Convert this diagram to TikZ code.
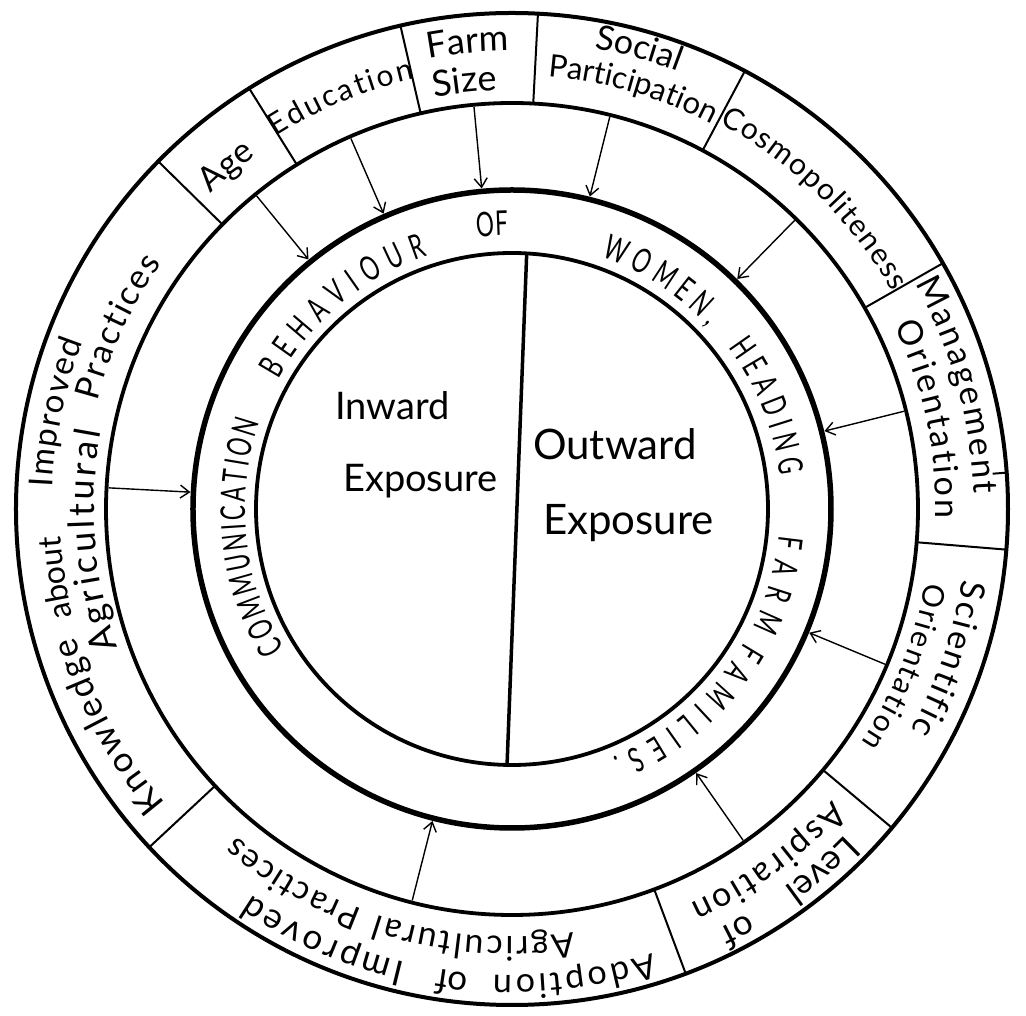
\documentclass[tikz,border=0pt]{standalone}
\usepackage{fontspec}
\usetikzlibrary{decorations.text,arrows.meta}
\newfontfamily\lblfont{Lato}
\newfontfamily\ringfont{Lato}[FakeStretch=0.66]
\newfontfamily\cenfont{Lato}
\newcommand\lsAA{\lblfont\fontsize{30pt}{30pt}\selectfont}
\newcommand\lsAB{\lblfont\fontsize{31pt}{31pt}\selectfont}
\newcommand\lsB{\lblfont\fontsize{32pt}{32pt}\selectfont}
\newcommand\lsC{\lblfont\fontsize{33pt}{33pt}\selectfont}
\newcommand\lsD{\lblfont\fontsize{34pt}{34pt}\selectfont}
\newcommand\lsE{\lblfont\fontsize{35pt}{35pt}\selectfont}
\newcommand\lsF{\lblfont\fontsize{36pt}{36pt}\selectfont}
\newcommand\rngf{\ringfont\fontsize{34pt}{34pt}\selectfont}
% centred text on a clockwise arc: centre angle, radius, font, text
\newcommand\arclabel[4]{\begingroup#3\path[decorate,decoration={text along path,text align=center,text={|#3|#4}}] ({#1+30}:#2) arc[start angle={#1+30},end angle={#1-30},radius=#2];\endgroup}
% text spread over a clockwise arc: start angle, end angle, radius, font, text
\newcommand\arcfit[5]{\begingroup#4\path[decorate,decoration={text along path,text align=fit to path,text={|#4|#5}}] (#1:#3) arc[start angle=#1,end angle=#2,radius=#3];\endgroup}
\tikzset{
  ringA/.style={draw,circle,inner sep=0pt,line width=4pt},
  ringB/.style={draw,circle,inner sep=0pt,line width=3.8pt},
  ringC/.style={draw,circle,inner sep=0pt,line width=5.5pt},
  ringD/.style={draw,circle,inner sep=0pt,line width=3.8pt},
  seplin/.style={line width=2pt},
  arr/.style={line width=1.4pt,-{Straight Barb[length=9pt,width=13pt]}},
  divline/.style={line width=3.5pt},
  centxtL/.style={font=\cenfont\fontsize{38pt}{38pt}\selectfont,inner sep=0pt,anchor=base west},
  centxtR/.style={font=\cenfont\fontsize{42pt}{42pt}\selectfont,inner sep=0pt,anchor=base west}
}
\begin{document}
\begin{tikzpicture}
\useasboundingbox (-512pt,-507pt) rectangle (514pt,509pt);
% circles
\node[ringA,minimum size=992pt] (c1) at (0,0) {};
\node[ringB,minimum size=812pt] (c2) at (0,0) {};
\node[ringC,minimum size=638pt] (c3) at (0,0) {};
\node[ringD,minimum size=512pt] (c4) at (0,0) {};
% separators in outer ring
\foreach \a [count=\i] in {135.5,122,103,87,62,29.7,-4.7,-40,-69.5,-137}{
  \coordinate (si\i) at (\a:406pt);
  \coordinate (so\i) at (\a:496pt);
  \draw[seplin] (si\i) -- (so\i);
}
\coordinate (tk1) at (4.2:482pt);
\coordinate (tk2) at (4.2:496pt);
\draw[seplin] (tk1) -- (tk2);
% arrows
\foreach \a [count=\i] in {129.2,113.5,95.4,76,45.6,14,-22.6,-55.1,-104.3,177}{
  \coordinate (as\i) at (\a:404pt);
  \coordinate (ae\i) at (\a:322pt);
  \draw[arr] (as\i) -- (ae\i);
}
% divider
\coordinate (dt) at (86.7:255pt);
\coordinate (db) at (268.9:254pt);
\draw[divline] (dt) -- (db);
% outer ring labels
\arclabel{129.8}{436pt}{\lsD}{Age}
\arcfit{122.5}{102.7}{441pt}{\lsAA}{Education}
\arclabel{95.45}{458pt}{\lsF}{Farm}
\arclabel{96.3}{419pt}{\lsF}{Size}
\arclabel{74.55}{468pt}{\lsD}{Social}
\arclabel{73.9}{434pt}{\lsAB}{Participation}
\arcfit{61.7}{29.7}{438pt}{\lsAA}{Cosmopoliteness}
\arcfit{29.2}{1.9}{462pt}{\lsD}{Management}
\arcfit{25.6}{-1.3}{424pt}{\lsD}{Orientation}
\arcfit{-8.9}{-29}{456pt}{\lsD}{Scientific}
\arcfit{-10.1}{-33.8}{420pt}{\lsAA}{Orientation}
\arclabel{-49.3}{466pt}{\lsE}{Level}
\arclabel{-61.8}{468pt}{\lsE}{of}
\arcfit{-42.3}{-65.7}{433pt}{\lsD}{Aspiration}
\arcfit{-72.4}{-92.3}{466pt}{\lsD}{Adoption}
\arclabel{-97.3}{466pt}{\lsE}{of}
\arcfit{-103.2}{-124.1}{466pt}{\lsE}{Improved}
\arcfit{-81.7}{-108.4}{428pt}{\lsD}{Agricultural}
\arcfit{-110.5}{-130.1}{428pt}{\lsC}{Practices}
\arcfit{220.4}{196.3}{455pt}{\lsE}{Knowledge}
\arclabel{188.6}{452pt}{\lsB}{about}
\arcfit{177.3}{158.8}{460pt}{\lsC}{Improved}
\arcfit{199.4}{169.3}{418pt}{\lsF}{Agricultural}
\arcfit{165.5}{144.9}{428pt}{\lsD}{Practices}
% inner ring text
\arcfit{211.5}{161}{267pt}{\rngf}{COMMUNICATION}
\arcfit{151}{108.4}{267pt}{\rngf}{BEHAVIOUR}
\arclabel{94}{274pt}{\rngf}{OF}
\arcfit{70.5}{43}{268pt}{\rngf}{WOMEN,}
\arcfit{36.8}{7}{270pt}{\rngf}{HEADING}
\arcfit{-5.6}{-26.2}{268pt}{\rngf}{FARM}
\arcfit{-29.8}{-68}{268pt}{\rngf}{FAMILIES.}
% centre
\node[centxtL] (inw) at (-177pt,89pt) {Inward};
\node[centxtL] (exl) at (-169pt,17pt) {Exposure};
\node[centxtR] (outw) at (21pt,49pt) {Outward};
\node[centxtR] (exr) at (31pt,-26pt) {Exposure};
\end{tikzpicture}
\end{document}
